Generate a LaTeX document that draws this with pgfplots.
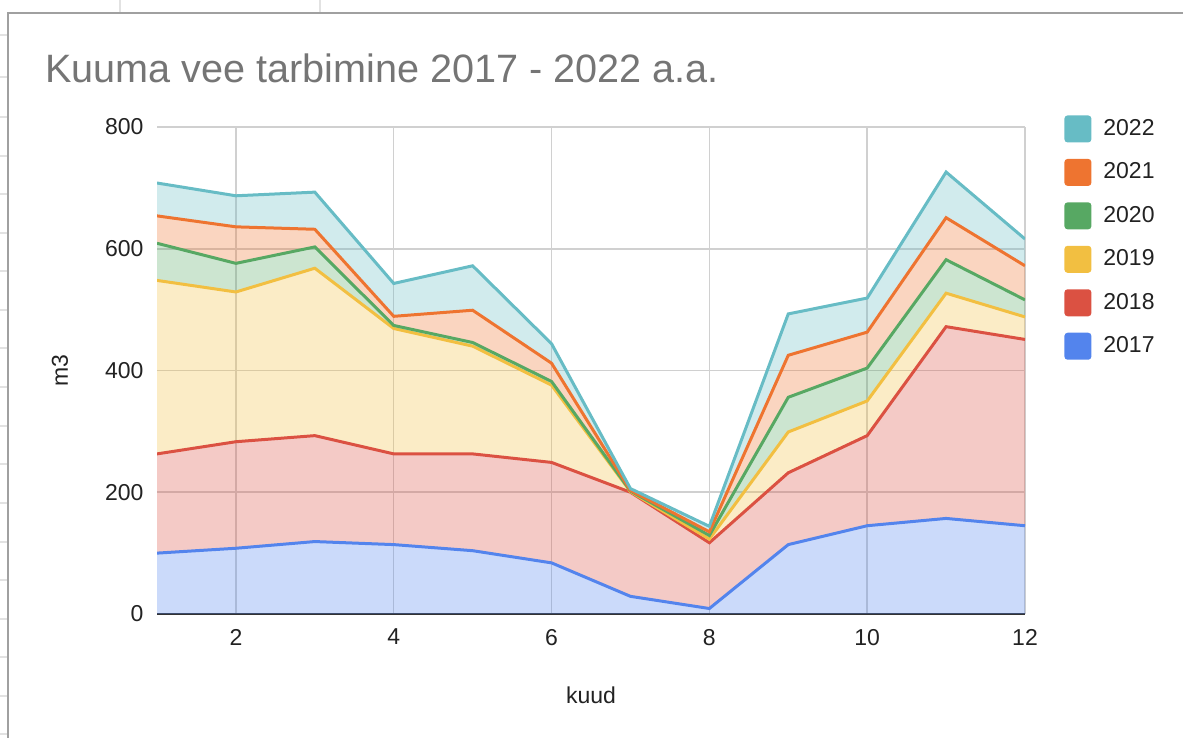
\documentclass[border=0pt]{standalone}
\usepackage{pgfplots}
\pgfplotsset{compat=1.18}
\usepgfplotslibrary{fillbetween}
\usepackage{pgfplotstable}
\usepackage{fontspec}
\setmainfont{Liberation Sans}
\definecolor{c17}{HTML}{5384ED}
\definecolor{c18}{HTML}{DB5142}
\definecolor{c19}{HTML}{F2BF41}
\definecolor{c20}{HTML}{57A863}
\definecolor{c21}{HTML}{EE7430}
\definecolor{c22}{HTML}{67BCC5}
\definecolor{gridgray}{HTML}{D0D0D0}
\definecolor{axisdark}{HTML}{333333}
\definecolor{titlegray}{HTML}{757575}
\definecolor{tickcol}{HTML}{222222}
\definecolor{framegray}{HTML}{A0A0A0}
\definecolor{cellgray}{HTML}{E2E2E2}

% cumulative (stacked) heights
\pgfplotstableread{
x c1 c2 c3 c4 c5 c6
1 100 263 548 609 654 708
2 108 283 529 576 636 687
3 119 293 568 603 632 693
4 114 263 469 474 489 543
5 104 263 440 446 499 572
6 84 249 376 382 412 444
7 29 200 201 202 203 206
8 9 117 123 129 135 144
9 114 232 299 356 425 493
10 145 293 350 404 463 519
11 157 472 527 582 651 726
12 145 451 488 516 572 616
}\data

\pgfplotsset{sq/.style={legend image code/.code={\fill[rounded corners=1pt,fill=#1] (0pt,-6pt) rectangle (12pt,6pt); \path (16pt,0pt);}}}

\begin{document}
\begin{tikzpicture}
\begin{axis}[
  scale only axis, width=434pt, height=243.5pt,
  xmin=1, xmax=12, ymin=0, ymax=800,
  axis lines*=left,
  xtick={2,4,...,12}, ytick={0,200,...,800},
  grid=major, major grid style={draw=gridgray, line width=0.75pt},
  major tick length=0pt,
  y axis line style={draw=none},
  x axis line style={draw=axisdark, line width=1pt},
  ticklabel style={font=\fontsize{11.5}{13}\selectfont, text=tickcol},
  /pgf/number format/assume math mode=true,
  xticklabel style={yshift=-4pt},
  yticklabel style={xshift=-3.2pt},
  xlabel={kuud}, ylabel={m3},
  label style={font=\fontsize{11.5}{13}\selectfont, text=tickcol},
  xlabel style={at={(axis description cs:0.5,-0.1663)}, anchor=center},
  ylabel style={at={(axis description cs:-0.1118,0.5)}, anchor=center},
  reverse legend,
  legend cell align=left,
  legend style={draw=none, fill=none, at={(axis description cs:1,1)}, anchor=north west,
    xshift=19.5pt, yshift=6pt, inner sep=0pt, row sep=8.2pt,
    font=\fontsize{11.5}{13}\selectfont, text=tickcol},
]
\addplot[name path=zero, draw=none, forget plot] coordinates {(1,0) (12,0)};
\addplot[name path=s1, draw=none, forget plot] table[x=x,y=c1] {\data};
\addplot[name path=s2, draw=none, forget plot] table[x=x,y=c2] {\data};
\addplot[name path=s3, draw=none, forget plot] table[x=x,y=c3] {\data};
\addplot[name path=s4, draw=none, forget plot] table[x=x,y=c4] {\data};
\addplot[name path=s5, draw=none, forget plot] table[x=x,y=c5] {\data};
\addplot[name path=s6, draw=none, forget plot] table[x=x,y=c6] {\data};
\addplot[fill=c17, fill opacity=0.3, draw=none, forget plot] fill between[of=zero and s1];
\addplot[fill=c18, fill opacity=0.3, draw=none, forget plot] fill between[of=s1 and s2];
\addplot[fill=c19, fill opacity=0.3, draw=none, forget plot] fill between[of=s2 and s3];
\addplot[fill=c20, fill opacity=0.3, draw=none, forget plot] fill between[of=s3 and s4];
\addplot[fill=c21, fill opacity=0.3, draw=none, forget plot] fill between[of=s4 and s5];
\addplot[fill=c22, fill opacity=0.3, draw=none, forget plot] fill between[of=s5 and s6];
\addplot[draw=c17, line width=1.5pt, sq=c17] table[x=x,y=c1] {\data};
\addlegendentry{2017}
\addplot[draw=c18, line width=1.5pt, sq=c18] table[x=x,y=c2] {\data};
\addlegendentry{2018}
\addplot[draw=c19, line width=1.5pt, sq=c19] table[x=x,y=c3] {\data};
\addlegendentry{2019}
\addplot[draw=c20, line width=1.5pt, sq=c20] table[x=x,y=c4] {\data};
\addlegendentry{2020}
\addplot[draw=c21, line width=1.5pt, sq=c21] table[x=x,y=c5] {\data};
\addlegendentry{2021}
\addplot[draw=c22, line width=1.5pt, sq=c22] table[x=x,y=c6] {\data};
\addlegendentry{2022}
\end{axis}
% chart frame and surrounding spreadsheet cells
\draw[framegray, line width=1pt] (-74.5pt,-62pt) -- (-74.5pt,300.5pt) -- (513pt,300.5pt);
\foreach \y in {35,77,117,156,194,233,271,310,348,387,426,464,503,542,580,619,657,696,734}
  \draw[cellgray, line width=0.6pt] (-78.5pt,{(614-\y)*0.5pt}) -- (-75pt,{(614-\y)*0.5pt});
\foreach \x in {120,320}
  \draw[cellgray, line width=0.6pt] ({(\x-157)*0.5pt},307pt) -- ({(\x-157)*0.5pt},301pt);
\node[anchor=base west, text=titlegray, font=\fontsize{19.8}{23}\selectfont, inner sep=0pt] at (-56pt,265.5pt) {Kuuma vee tarbimine 2017 - 2022 a.a.};
\pgfresetboundingbox
\useasboundingbox (-78.5pt,-62pt) rectangle (513pt,307pt);
\end{tikzpicture}
\end{document}
